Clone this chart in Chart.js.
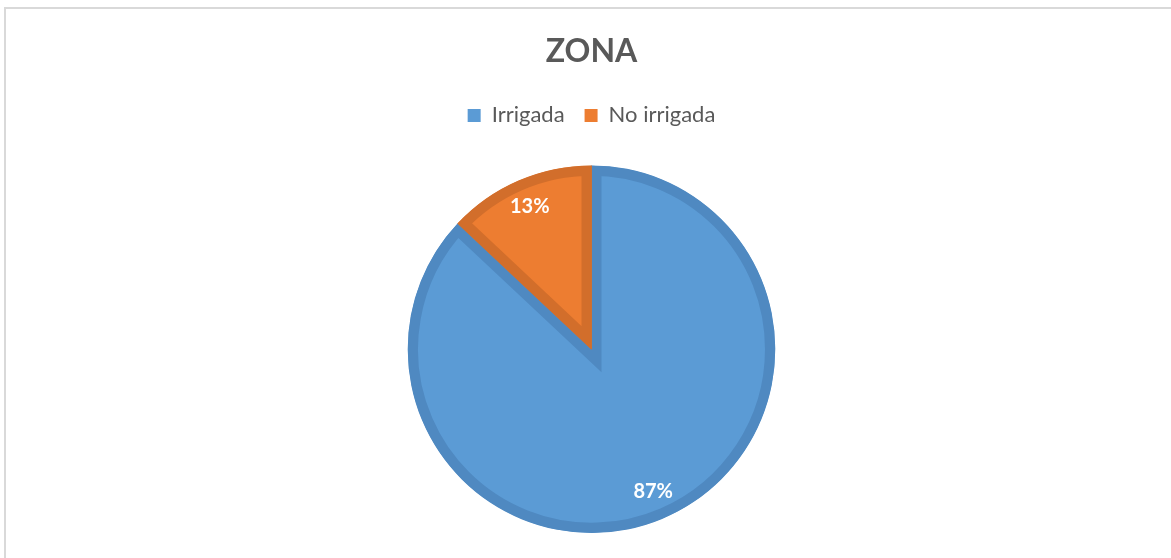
<!DOCTYPE html>
<html>
<head>
<meta charset="utf-8">
<script src="https://cdn.jsdelivr.net/npm/chart.js@4/dist/chart.umd.min.js"></script>
<style>
  html, body { margin: 0; padding: 0; background: #ffffff; overflow: hidden; }
  #wrap { position: relative; width: 1171px; height: 558px; }
  #frame { position: absolute; left: 4px; top: 7px; width: 1200px; height: 600px;
           border-top: 2px solid #d9d9d9; border-left: 2px solid #d9d9d9; box-sizing: border-box; pointer-events: none; }
  canvas { position: absolute; left: 0; top: 0; }
</style>
</head>
<body>
<div id="wrap">
  <canvas id="c" width="1171" height="558"></canvas>
  <div id="frame"></div>
</div>
<script>
const chartTitle = 'ZONA';
const categories = ['Irrigada', 'No irrigada'];
const values = [87, 13];
const valueLabels = ['87%', '13%'];
const fillColors = ['#5B9BD5', '#ED7D31'];
const borderColors = ['#4F89C1', '#D26E2B'];

const labelPlugin = {
  id: 'sliceLabels',
  afterDatasetsDraw(chart) {
    const ctx = chart.ctx;
    const meta = chart.getDatasetMeta(0);
    ctx.save();
    ctx.fillStyle = '#ffffff';
    ctx.font = 'bold 20px Lato';
    ctx.textAlign = 'center';
    ctx.textBaseline = 'middle';
    meta.data.forEach((arc, i) => {
      const mid = (arc.startAngle + arc.endAngle) / 2;
      const r = arc.outerRadius * 0.845;
      ctx.fillText(valueLabels[i], arc.x + Math.cos(mid) * r, arc.y + Math.sin(mid) * r);
    });
    ctx.restore();
  }
};

const legendGap = {
  id: 'legendGap',
  beforeInit(chart) {
    const lg = chart.legend;
    if (!lg) return;
    const origFit = lg.fit;
    lg.fit = function () {
      origFit.call(this);
      this.height += 29;
    };
  }
};

new Chart(document.getElementById('c'), {
  type: 'pie',
  data: {
    labels: categories,
    datasets: [{
      data: values,
      backgroundColor: fillColors,
      borderColor: borderColors,
      borderWidth: 10,
      borderAlign: 'inner',
      borderJoinStyle: 'miter',
      hoverBorderWidth: 10
    }]
  },
  options: {
    responsive: false,
    devicePixelRatio: 1,
    animation: false,
    events: [],
    layout: { padding: { left: 12, right: 0, top: 0, bottom: 25 } },
    plugins: {
      title: {
        display: true,
        text: chartTitle,
        color: '#595959',
        font: { family: 'Lato', size: 32, weight: 'bold', lineHeight: 1.2 },
        padding: { top: 32, bottom: 14 }
      },
      legend: {
        display: true,
        position: 'top',
        labels: {
          color: '#595959',
          font: { family: 'Lato', size: 22 },
          boxWidth: 13,
          boxHeight: 13,
          padding: 20,
          generateLabels(chart) {
            const items = Chart.overrides.pie.plugins.legend.labels.generateLabels(chart);
            items.forEach(it => { it.lineWidth = 0; it.strokeStyle = it.fillStyle; });
            return items;
          }
        }
      },
      tooltip: { enabled: false }
    }
  },
  plugins: [labelPlugin, legendGap]
});
</script>
</body>
</html>
